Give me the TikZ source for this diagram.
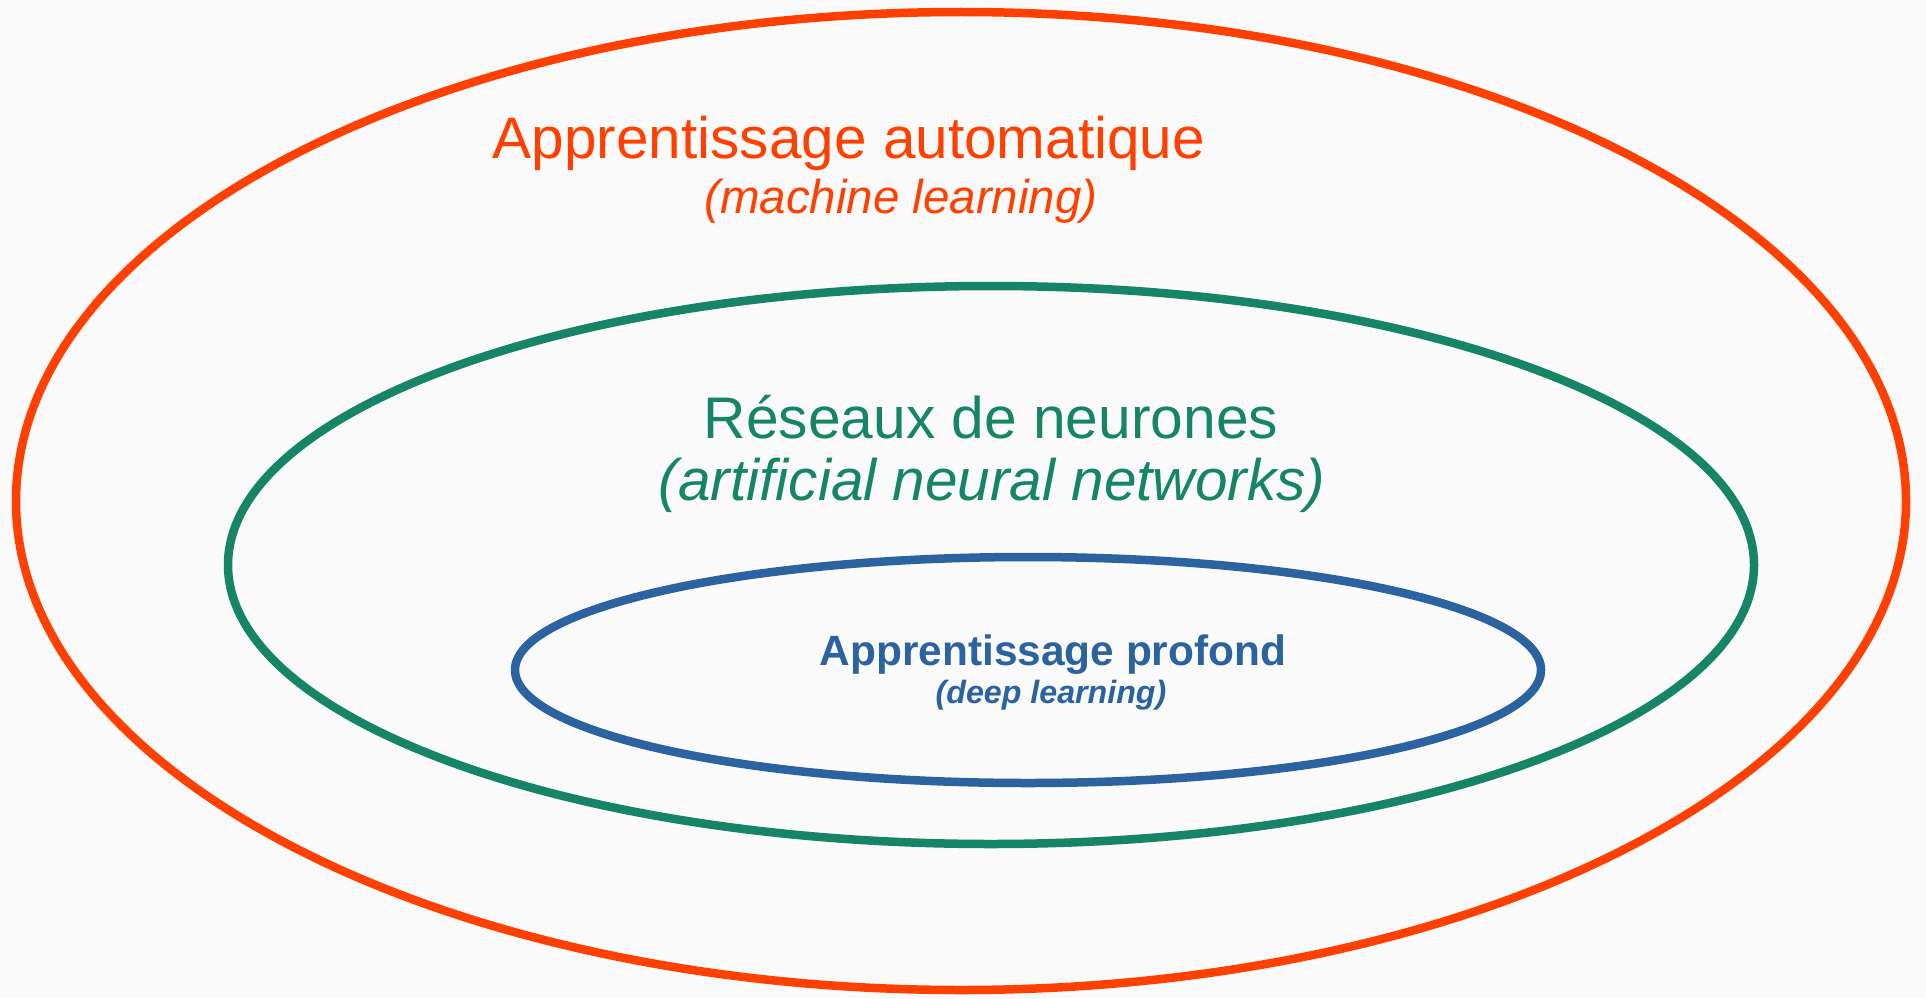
\documentclass[tikz,border=0pt]{standalone}
\usepackage{fontspec}
\setmainfont{Liberation Sans}
\definecolor{mlorange}{HTML}{FF4000}
\definecolor{nngreen}{HTML}{158566}
\definecolor{dlblue}{HTML}{2B62A0}
\definecolor{paper}{HTML}{FAFAFA}
\tikzset{
  ring/.style={line width=8.5pt},
  label/.style={anchor=base, inner sep=0pt, outer sep=0pt},
}
\begin{document}
\begin{tikzpicture}[x=1pt, y=-1pt]
  % page
  \fill[paper] (0,0) rectangle (1926,998);
  \useasboundingbox (0,0) rectangle (1926,998);

  % nested sets
  \draw[ring, mlorange] (961,501) ellipse [x radius=945pt, y radius=489pt];
  \draw[ring, nngreen]  (991,565) ellipse [x radius=763pt, y radius=279pt];
  \draw[ring, dlblue]   (1028,670) ellipse [x radius=513pt, y radius=113pt];

  % machine learning
  \node[label, text=mlorange, font=\fontsize{58.5}{60}\selectfont] (ml) at (849,158) {Apprentissage automatique};
  \node[label, text=mlorange, font=\fontsize{47.5}{48}\selectfont\itshape] (mlen) at (901,213) {(machine learning)};

  % neural networks
  \node[label, text=nngreen, font=\fontsize{58.7}{60}\selectfont] (nn) at (991,438) {Réseaux de neurones};
  \node[label, text=nngreen, font=\fontsize{58.5}{60}\selectfont\itshape] (nnen) at (992,500) {(artificial neural networks)};

  % deep learning
  \node[label, text=dlblue, font=\fontsize{42.4}{44}\selectfont\bfseries] (dl) at (1053,665) {Apprentissage profond};
  \node[label, text=dlblue, font=\fontsize{32.2}{34}\selectfont\bfseries\itshape] (dlen) at (1051,703) {(deep learning)};
\end{tikzpicture}
\end{document}
